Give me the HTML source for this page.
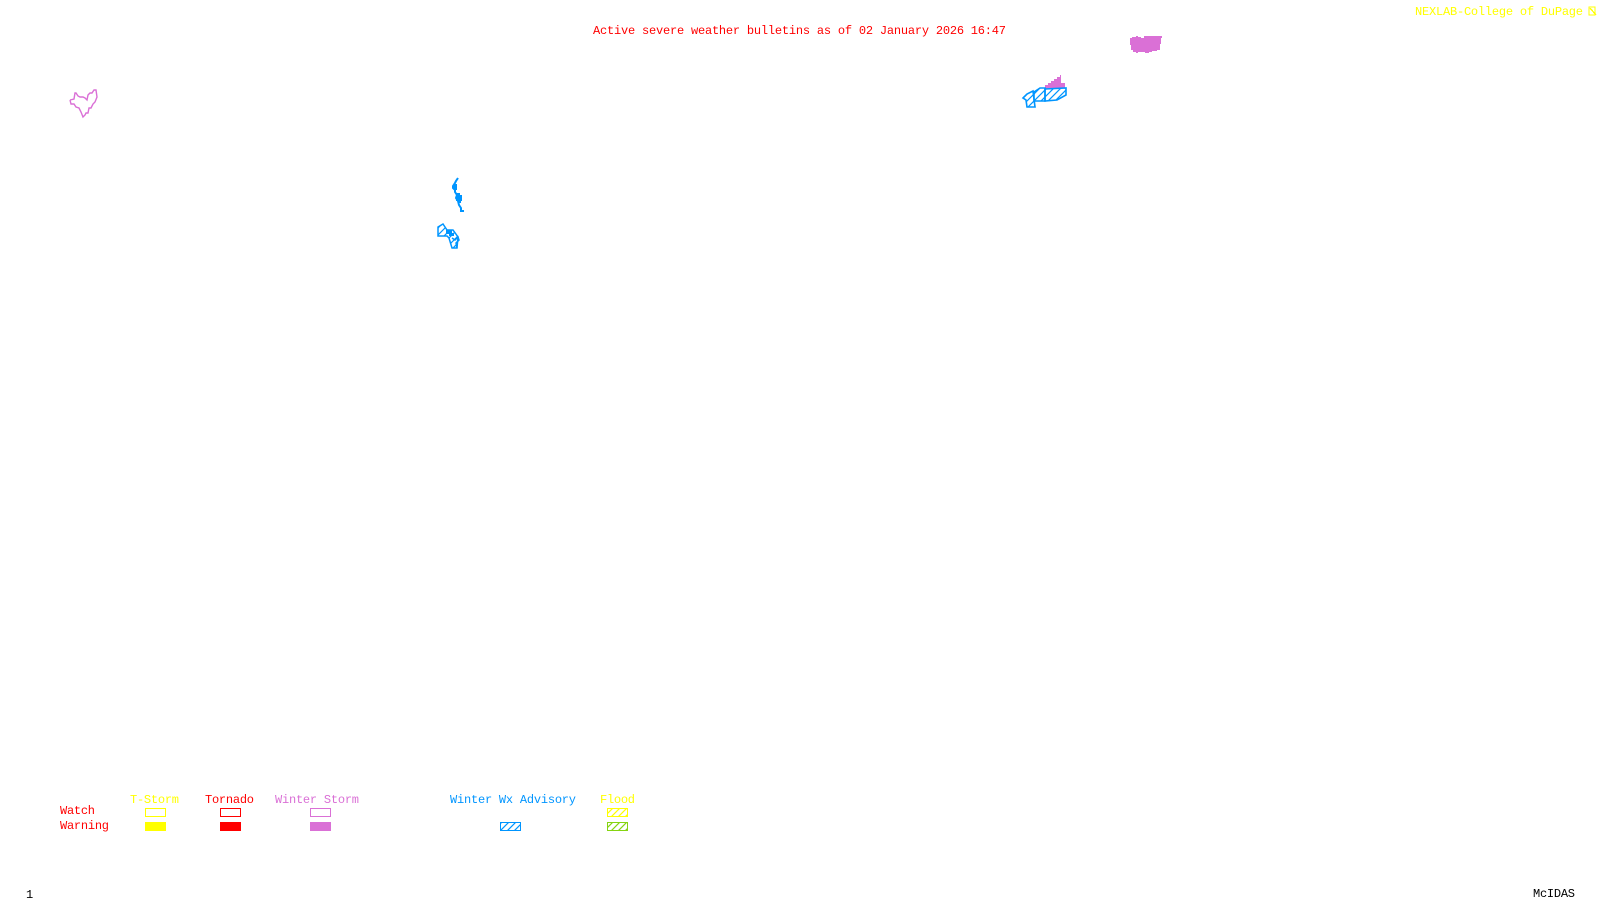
<!DOCTYPE html>
<html><head><meta charset="utf-8"><title>Active severe weather bulletins</title>
<style>
html,body{margin:0;padding:0;background:#fff;width:1600px;height:900px;overflow:hidden}
svg{display:block}
text{font-family:"Liberation Mono",monospace;font-size:12px}
</style></head><body>
<svg width="1600" height="900" viewBox="0 0 1600 900" xmlns="http://www.w3.org/2000/svg">
<defs>
<pattern id="hb" width="7" height="7" patternUnits="userSpaceOnUse" patternTransform="translate(0,1)"><path d="M-1 8L8 -1M-1 1L1 -1M6 8L8 6" stroke="#0095ff" stroke-width="1.2" fill="none"/></pattern>
<pattern id="hy" width="7" height="7" patternUnits="userSpaceOnUse"><path d="M-1 8L8 -1M-1 1L1 -1M6 8L8 6" stroke="#ffff00" stroke-width="1.2" fill="none"/></pattern>
<pattern id="hg" width="7" height="7" patternUnits="userSpaceOnUse"><path d="M-1 8L8 -1M-1 1L1 -1M6 8L8 6" stroke="#85d411" stroke-width="1.2" fill="none"/></pattern>
</defs>

<text x="593" y="34" fill="#f00" textLength="413" lengthAdjust="spacing">Active severe weather bulletins as of 02 January 2026 16:47</text>
<text x="1415" y="15" fill="#ff0" textLength="168" lengthAdjust="spacing">NEXLAB-College of DuPage</text>
<g fill="none" stroke="#ff0" stroke-width="1.3" shape-rendering="crispEdges"><rect x="1589" y="7" width="6" height="8"/><path d="M1590 8L1596 15"/></g>

<!-- pink filled blob -->
<polygon fill="#da70d6" shape-rendering="crispEdges" points="1130,38 1132,38 1132,37 1136,37 1136,36 1138,36 1138,37 1141,37 1141,38 1144,38 1144,36 1162,36 1162,38 1161,38 1161,44 1160,44 1160,50 1157,50 1157,51 1152,51 1152,52 1149,52 1149,53 1145,53 1145,52 1138,52 1138,53 1136,53 1136,52 1133,52 1133,50 1131,50 1131,45 1130,45"/>
<!-- pink triangle -->
<polygon fill="#da70d6" shape-rendering="crispEdges" points="1045,89 1045,85 1048,85 1048,83 1051,83 1051,81 1054,81 1054,79 1057,79 1057,77 1060,77 1060,75 1061,75 1061,83 1065,83 1065,88"/>
<!-- blue hatch cluster -->
<g fill="url(#hb)" stroke="#0095ff" stroke-width="1.6">
<polygon points="1045,89 1066,88 1066,95 1057,100 1045,101"/>
<polygon points="1034,92 1040,88 1045,88 1045,101 1034,101"/>
<polygon points="1023,98 1027,94 1033,91 1035,107 1027,107 1026,100"/>
</g>

<!-- orchid outline -->
<polyline fill="none" stroke="#da70d6" stroke-width="1.4" points="70,100 71,104 74,104 76,107 79,108 81,112 83,117 85,115 86,113 88,113 89,108 91,108 93,104 95,102 97,97 96,90 94,90 92,93 90,93 88,95 87,100 85,98 83,97 80,97 78,96 76,93 75,93 74,99 70,100"/>

<!-- blue squiggle -->
<polyline fill="none" stroke="#0095ff" stroke-width="2" points="458,178 456,181 455,183 453,186 453,188 455,190 455,192 457,195 456,198 458,201 459,205 461,208 461,211 464,211"/>
<polygon fill="#0095ff" shape-rendering="crispEdges" points="456,193 460,193 460,195 462,195 462,201 461,201 461,203 458,203 458,201 456,201"/>
<polygon fill="#0095ff" shape-rendering="crispEdges" points="454,184 457,184 457,190 454,190"/>
<!-- blue lower cluster -->
<polygon fill="url(#hb)" stroke="#0095ff" stroke-width="1.5" points="438,227 443,224 447,230 453,230 458,237 457,248 452,248 449,238 447,236 438,236"/>
<polygon fill="#0095ff" shape-rendering="crispEdges" points="446,230 452,230 452,233 454,233 454,236 449,236 449,234 446,234"/>
<polyline fill="none" stroke="#0095ff" stroke-width="1.5" points="452,238 455,240 458,237 459,240 456,243 457,248"/>

<!-- legend -->
<text x="130" y="803" fill="#ff0" textLength="49" lengthAdjust="spacing">T-Storm</text>
<text x="205" y="803" fill="#f00" textLength="49" lengthAdjust="spacing">Tornado</text>
<text x="275" y="803" fill="#da70d6" textLength="84" lengthAdjust="spacing">Winter Storm</text>
<text x="450" y="803" fill="#0095ff" textLength="126" lengthAdjust="spacing">Winter Wx Advisory</text>
<text x="600" y="803" fill="#ff0" textLength="35" lengthAdjust="spacing">Flood</text>
<text x="60" y="814" fill="#f00" textLength="35" lengthAdjust="spacing">Watch</text>
<text x="60" y="829" fill="#f00" textLength="49" lengthAdjust="spacing">Warning</text>

<g fill="none" stroke-width="1" shape-rendering="crispEdges">
<rect x="145.5" y="808.5" width="20" height="8" stroke="#ff0"/>
<rect x="220.5" y="808.5" width="20" height="8" stroke="#f00"/>
<rect x="310.5" y="808.5" width="20" height="8" stroke="#da70d6"/>
</g>
<rect x="145" y="822" width="21" height="9" fill="#ff0"/>
<rect x="220" y="822" width="21" height="9" fill="#f00"/>
<rect x="310" y="822" width="21" height="9" fill="#da70d6"/>
<rect x="500.5" y="822.5" width="20" height="8" fill="url(#hb)" stroke="#0095ff"/>
<rect x="607.5" y="808.5" width="20" height="8" fill="url(#hy)" stroke="#ff0"/>
<rect x="607.5" y="822.5" width="20" height="8" fill="url(#hg)" stroke="#85d411"/>

<text x="26" y="898" fill="#000">1</text>
<text x="1533" y="897" fill="#000" textLength="42" lengthAdjust="spacing">McIDAS</text>
</svg>
</body></html>
